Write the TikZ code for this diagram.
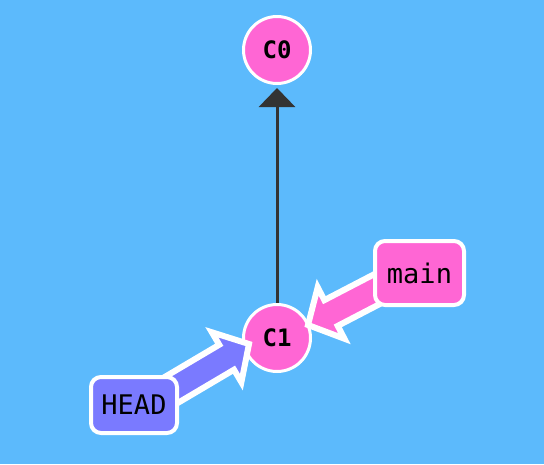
\documentclass[tikz,border=0pt]{standalone}
\usepackage{fontspec}
\setmonofont{DejaVu Sans Mono}
\usetikzlibrary{calc,arrows.meta}
\definecolor{bg}{RGB}{92,186,252}
\definecolor{cpink}{RGB}{255,102,212}
\definecolor{hblue}{RGB}{122,122,255}
\definecolor{edgegray}{RGB}{51,51,51}
\pgfdeclarelayer{bglayer}
\pgfdeclarelayer{edgelayer}
\pgfdeclarelayer{arrowlayer}
\pgfdeclarelayer{boxlayer}
\pgfsetlayers{bglayer,edgelayer,main,arrowlayer,boxlayer}
\tikzset{
  commit/.style={circle, fill=cpink, draw=white, line width=3pt, minimum size=67pt,
    inner sep=0pt, font=\ttfamily\bfseries\fontsize{24}{24}\selectfont},
  branch/.style={rounded corners=10pt, draw=white, line width=4pt, inner sep=0pt,
    font=\ttfamily\fontsize{27}{27}\selectfont},
  parent/.style={draw=edgegray, line width=3pt, -{Triangle[length=19pt,width=36pt]}},
  refarrow/.style={draw=white, line width=6pt, line join=miter, miter limit=10},
}
\newcommand\branchpointer[3]{% #1 start coordinate, #2 tip coordinate, #3 fill colour
  \coordinate (#1-hb) at ($(#2)!26pt!(#1)$);
  \filldraw[refarrow, fill=#3]
    ($(#1)!14.5pt!90:(#2)$) --
    ($(#1-hb)!14.5pt!-90:(#1)$) --
    ($(#1-hb)!29pt!-90:(#1)$) --
    (#2) --
    ($(#1-hb)!29pt!90:(#1)$) --
    ($(#1-hb)!14.5pt!90:(#1)$) --
    ($(#1)!14.5pt!-90:(#2)$) -- cycle;
}
\begin{document}
\begin{tikzpicture}[x=1pt,y=-1pt]
  \begin{pgfonlayer}{bglayer}
    \fill[bg] (0,0) rectangle (544,464);
  \end{pgfonlayer}
  \useasboundingbox (0,0) rectangle (544,464);

  \node[commit] (C0) at (277,50) {C0};
  \node[commit] (C1) at (277,338) {C1};

  \begin{pgfonlayer}{boxlayer}
    \node[branch, fill=cpink, minimum width=89pt, minimum height=64pt] (main) at (419.5,273) {main};
    \node[branch, fill=hblue, minimum width=86pt, minimum height=56pt] (HEAD) at (134,405) {HEAD};
  \end{pgfonlayer}

  \begin{pgfonlayer}{edgelayer}
    \draw[parent, shorten >=3pt] (C1) -- (C0);
  \end{pgfonlayer}

  \coordinate (mainStart) at ($(main)+(0,-6)$);
  \coordinate (headStart) at ($(HEAD)+(0,7)$);
  \coordinate (mainTip) at ($(C1)+(31,-13)$);
  \coordinate (headTip) at ($(C1)+(-28,6)$);
  \begin{pgfonlayer}{arrowlayer}
    \branchpointer{mainStart}{mainTip}{cpink}
    \branchpointer{headStart}{headTip}{hblue}
  \end{pgfonlayer}
\end{tikzpicture}
\end{document}
